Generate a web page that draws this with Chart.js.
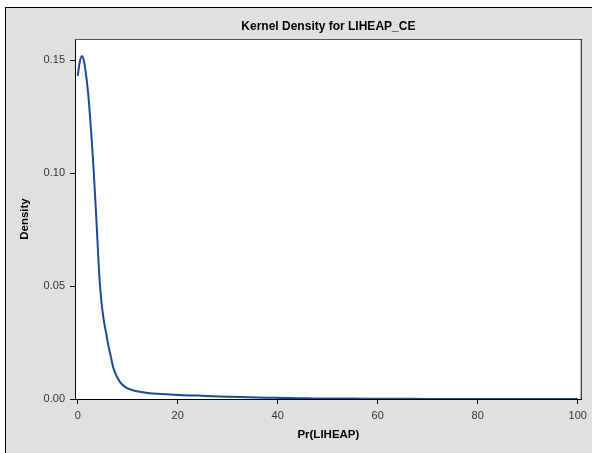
<!DOCTYPE html>
<html>
<head>
<meta charset="utf-8">
<script src="https://cdn.jsdelivr.net/npm/chart.js@4.4.0/dist/chart.umd.min.js"></script>
<style>
  html, body { margin: 0; padding: 0; background: #fff; overflow: hidden; }
  #wrap { position: absolute; left: 0; top: 0; width: 592px; height: 453px; }
</style>
</head>
<body>
<div id="wrap"><canvas id="kde" width="592" height="453"></canvas></div>
<script>
const xValues = [
    0, 0.4, 0.85, 1.3, 1.7, 2.1, 2.5, 2.8, 3.2, 3.6,
    4.0, 4.4, 4.8, 5.2, 5.7, 6.1, 6.6, 7.1, 7.7, 8.4,
    9.2, 10.2, 11.2, 12.4, 14, 16, 18.5, 21, 24, 27,
    30, 34, 38, 42, 46, 50, 55, 60, 70, 80, 90, 100
];
const densities = [
    0.143, 0.149, 0.1518, 0.149, 0.143, 0.135, 0.124, 0.1146, 0.101, 0.085,
    0.068, 0.052, 0.042, 0.035, 0.029, 0.024, 0.019, 0.014, 0.0105, 0.0077,
    0.0058, 0.0045, 0.0038, 0.0032, 0.0027, 0.0023, 0.0020, 0.0017, 0.0015, 0.0012,
    0.0010, 0.0008, 0.0006, 0.0004, 0.0003, 0.0002, 0.0002, 0.0001, 0.00005, 0.00003, 0.00002, 0.00001
];
const xTicks = [0, 20, 40, 60, 80, 100];
const yTicks = [0, 0.05, 0.10, 0.15];

const FONT = "'Liberation Sans', Arial, sans-serif";

const FRAME_PLUGIN = {
    id: 'frame',
    beforeDraw(chart) {
        const ctx = chart.ctx;
        const a = chart.chartArea;
        ctx.save();
        ctx.fillStyle = '#fff';
        ctx.fillRect(0, 0, chart.width, chart.height);
        ctx.fillStyle = '#e0e0e0';
        ctx.fillRect(5, 7, chart.width, chart.height);
        ctx.strokeStyle = '#000';
        ctx.lineWidth = 1;
        ctx.strokeRect(5.5, 7.5, chart.width + 10, chart.height + 10);
        ctx.fillStyle = '#fff';
        ctx.fillRect(a.left, a.top, a.right - a.left, a.bottom - a.top);
        ctx.restore();
    },
    afterDraw(chart) {
        const ctx = chart.ctx;
        const a = chart.chartArea;
        ctx.save();
        ctx.lineWidth = 1;
        ctx.strokeStyle = '#555';
        ctx.beginPath();
        ctx.moveTo(a.left, a.top + 0.5);
        ctx.lineTo(a.right, a.top + 0.5);
        ctx.stroke();
        ctx.strokeStyle = '#000';
        ctx.beginPath();
        ctx.moveTo(a.right - 0.5, a.top);
        ctx.lineTo(a.right - 0.5, a.bottom);
        ctx.stroke();
        ctx.restore();
    }
};

const points = xValues.map((x, i) => ({ x: x, y: densities[i] }));

new Chart(document.getElementById('kde'), {
    type: 'line',
    plugins: [FRAME_PLUGIN],
    data: {
        datasets: [{
            data: points,
            borderColor: '#1d4a91',
            borderWidth: 2,
            pointRadius: 0,
            fill: false,
            cubicInterpolationMode: 'monotone'
        }]
    },
    options: {
        responsive: false,
        animation: false,
        devicePixelRatio: 1,
        layout: { padding: { left: 0, right: 6, top: 0, bottom: 0 } },
        plugins: {
            legend: { display: false },
            tooltip: { enabled: false },
            title: {
                display: true,
                text: 'Kernel Density for LIHEAP_CE',
                fullSize: false,
                color: '#000',
                font: { family: FONT, size: 12, weight: 'bold' },
                padding: { top: 19, bottom: 5.6 }
            }
        },
        scales: {
            x: {
                type: 'linear',
                min: -0.54,
                max: 100.8,
                afterFit(scale) { scale.height = 54; },
                afterBuildTicks(scale) { scale.ticks = xTicks.map(v => ({ value: v })); },
                ticks: {
                    color: '#333',
                    font: { family: FONT, size: 11 },
                    padding: 5,
                    maxRotation: 0,
                    callback: v => String(v)
                },
                grid: {
                    display: true,
                    drawOnChartArea: false,
                    drawTicks: true,
                    tickLength: 5,
                    color: '#000'
                },
                border: { display: true, color: '#000', width: 1 },
                title: {
                    display: true,
                    text: 'Pr(LIHEAP)',
                    color: '#000',
                    font: { family: FONT, size: 11.5, weight: 'bold' },
                    padding: { top: 0, bottom: 11.1 }
                }
            },
            y: {
                type: 'linear',
                min: 0,
                max: 0.1593,
                afterFit(scale) { scale.width = 75; },
                afterBuildTicks(scale) { scale.ticks = yTicks.map(v => ({ value: v })); },
                ticks: {
                    color: '#333',
                    font: { family: FONT, size: 11 },
                    padding: 5,
                    callback: v => Number(v).toFixed(2)
                },
                grid: {
                    display: true,
                    drawOnChartArea: false,
                    drawTicks: true,
                    tickLength: 5,
                    color: '#000'
                },
                border: { display: true, color: '#000', width: 1 },
                title: {
                    display: true,
                    text: 'Density',
                    color: '#000',
                    font: { family: FONT, size: 11.5, weight: 'bold' },
                    padding: { top: 18.1, bottom: 0 }
                }
            }
        }
    }
});
</script>
</body>
</html>
